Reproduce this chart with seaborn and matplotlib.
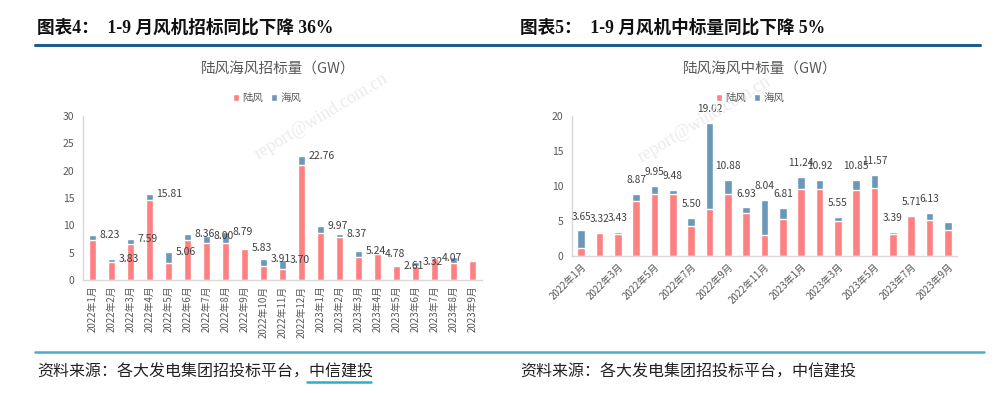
import numpy as np
import pandas as pd
import matplotlib.pyplot as plt
from matplotlib.patches import Patch
from matplotlib.lines import Line2D
import seaborn as sns

# Data (GW)
months = ["2022年%d月" % m for m in range(1, 13)] + ["2023年%d月" % m for m in range(1, 10)]

# 招标量
bid_total = [8.23, 3.83, 7.59, 15.81, 5.06, 8.36, 8.00, 8.79, 5.83, 3.91, 3.70, 22.76,
             9.97, 8.37, 5.24, 4.78, 2.61, 3.32, 4.07, 4.27, 3.47]
bid_onshore = [7.3, 3.3, 6.6, 14.6, 3.2, 7.3, 6.7, 6.8, 5.6, 2.6, 2.1, 21.0,
               8.66, 7.8, 4.27, 4.78, 2.61, 2.5, 4.07, 3.05, 3.47]
bid_labels = ["8.23", "3.83", "7.59", "15.81", "5.06", "8.36", "8.00", "8.79", "5.83", "3.91",
              "3.70", "22.76", "9.97", "8.37", "5.24", "4.78", "2.61", "3.32", "4.07", "", ""]

# 中标量
win_total = [3.65, 3.32, 3.43, 8.87, 9.95, 9.48, 5.50, 19.02, 10.88, 6.93, 8.04,
             6.81, 11.24, 10.92, 5.55, 10.85, 11.57, 3.39, 5.71, 6.13, 4.87]
win_onshore = [1.1, 3.32, 3.2, 7.8, 8.83, 8.9, 4.34, 6.73, 8.9, 6.2, 2.96,
               5.25, 9.55, 9.55, 4.96, 9.4, 9.78, 3.1, 5.71, 5.1, 3.67]
win_labels = ["3.65", "3.32", "3.43", "8.87", "9.95", "9.48", "5.50", "19.02", "10.88", "6.93", "8.04",
              "6.81", "11.24", "10.92", "5.55", "10.85", "11.57", "3.39", "5.71", "6.13", ""]

df_bid = pd.DataFrame({"month": months, "total": bid_total, "onshore": bid_onshore})
df_win = pd.DataFrame({"month": months, "total": win_total, "onshore": win_onshore})

RED = "#FF8080"
BLUE = "#6B97B8"
GRAY = "#595959"
SPINE = "#D9D9D9"

sns.set_style("white")
plt.rcParams['font.family'] = ['Noto Sans CJK SC', 'DejaVu Sans']

fig = plt.figure(figsize=(10, 3.93), dpi=100)
ax1 = fig.add_axes([0.083, 0.2875, 0.399, 0.4173])
ax2 = fig.add_axes([0.572, 0.3486, 0.385, 0.3562])


def draw(ax, df, labels, ymax, label_mode):
    sns.barplot(data=df, x="month", y="total", order=months, color=BLUE, saturation=1,
                width=0.42, ax=ax)
    sns.barplot(data=df, x="month", y="onshore", order=months, color=RED, saturation=1,
                width=0.42, ax=ax)
    ax.set_ylim(0, ymax)
    ax.set_xlim(-0.5, len(months) - 0.5)
    ax.set_xlabel("")
    ax.set_ylabel("")
    for s in ["top", "right"]:
        ax.spines[s].set_visible(False)
    for s in ["left", "bottom"]:
        ax.spines[s].set_color(SPINE)
        ax.spines[s].set_linewidth(1)
    ax.tick_params(axis="y", length=3, color=SPINE, labelsize=7.5, labelcolor=GRAY, pad=3)
    for i, (t, lab) in enumerate(zip(df["total"], labels)):
        if not lab:
            continue
        if label_mode == "right":
            ax.annotate(lab, (i, t), xytext=(5, 0), textcoords="offset points",
                        ha="left", va="center", fontsize=7.5, color="#404040",
                        annotation_clip=False)
        else:
            ax.annotate(lab, (i, t), xytext=(0, 10), textcoords="offset points",
                        ha="center", va="center", fontsize=7.3, color="#404040",
                        annotation_clip=False)


draw(ax1, df_bid, bid_labels, 30, "right")
ax1.set_yticks(range(0, 31, 5))
ax1.set_xticks(range(len(months)))
ax1.set_xticklabels(months, rotation=90, fontsize=7, color=GRAY)
ax1.tick_params(axis="x", which="major", length=0, pad=4)
ax1.set_xticks(np.arange(-0.5, len(months), 1), minor=True)
ax1.tick_params(axis="x", which="minor", length=3, color=SPINE)

draw(ax2, df_win, win_labels, 20, "above")
ax2.set_yticks(range(0, 21, 5))
ax2.set_xticks(range(0, len(months), 2))
ax2.set_xticklabels(months[::2], rotation=45, ha="right", rotation_mode="anchor",
                    fontsize=7, color=GRAY)
ax2.tick_params(axis="x", which="major", length=0, pad=4)
ax2.set_xticks(np.arange(-0.5, len(months) - 1, 2), minor=True)
ax2.tick_params(axis="x", which="minor", length=3, color=SPINE)

# chart titles and legends
fig.text(0.2785, 1 - 70 / 393, "陆风海风招标量（GW）", ha="center", va="center",
         fontsize=10.5, color=GRAY)
fig.text(0.760, 1 - 70 / 393, "陆风海风中标量（GW）", ha="center", va="center",
         fontsize=10.5, color=GRAY)
handles = [Patch(facecolor=RED, label="陆风"), Patch(facecolor=BLUE, label="海风")]
for x in [0.267, 0.750]:
    fig.legend(handles=handles, loc="center", bbox_to_anchor=(x, 1 - 98 / 393), ncol=2,
               frameon=False, fontsize=7.5, labelcolor=GRAY, handlelength=0.6,
               handleheight=0.6, handletextpad=0.3, columnspacing=0.8)

# watermarks
for x, y in [(0.321, 1 - 117 / 393), (0.704, 1 - 120 / 393)]:
    fig.text(x, y, "report@wind.com.cn", rotation=31, ha="center", va="center",
             fontsize=13, color="#EBEBEB", family="Liberation Serif", zorder=0)

# panel headers
title_font = ['Liberation Serif', 'Noto Sans CJK SC']
fig.text(0.037, 1 - 28 / 393, "图表4：  1-9 月风机招标同比下降 36%", ha="left", va="center",
         fontsize=12.7, fontweight="bold", family=title_font, color="#111111")
fig.text(0.520, 1 - 28 / 393, "图表5：  1-9 月风机中标量同比下降 5%", ha="left", va="center",
         fontsize=12.7, fontweight="bold", family=title_font, color="#111111")
fig.add_artist(Line2D([0.035, 0.980], [1 - 45 / 393] * 2, color="#1F5C8B", linewidth=2.2))

# bottom source lines
fig.add_artist(Line2D([0.035, 0.984], [1 - 352 / 393] * 2, color="#4BACC6", linewidth=1.8))
fig.text(0.037, 1 - 372 / 393, "资料来源：各大发电集团招投标平台，中信建投", ha="left", va="center",
         fontsize=11.5, color="#222222")
fig.text(0.520, 1 - 372 / 393, "资料来源：各大发电集团招投标平台，中信建投", ha="left", va="center",
         fontsize=11.5, color="#222222")
fig.add_artist(Line2D([0.307, 0.371], [1 - 382 / 393] * 2, color="#2BB0C8", linewidth=1.8))

fig.savefig("out.png", dpi=100, facecolor="white")
